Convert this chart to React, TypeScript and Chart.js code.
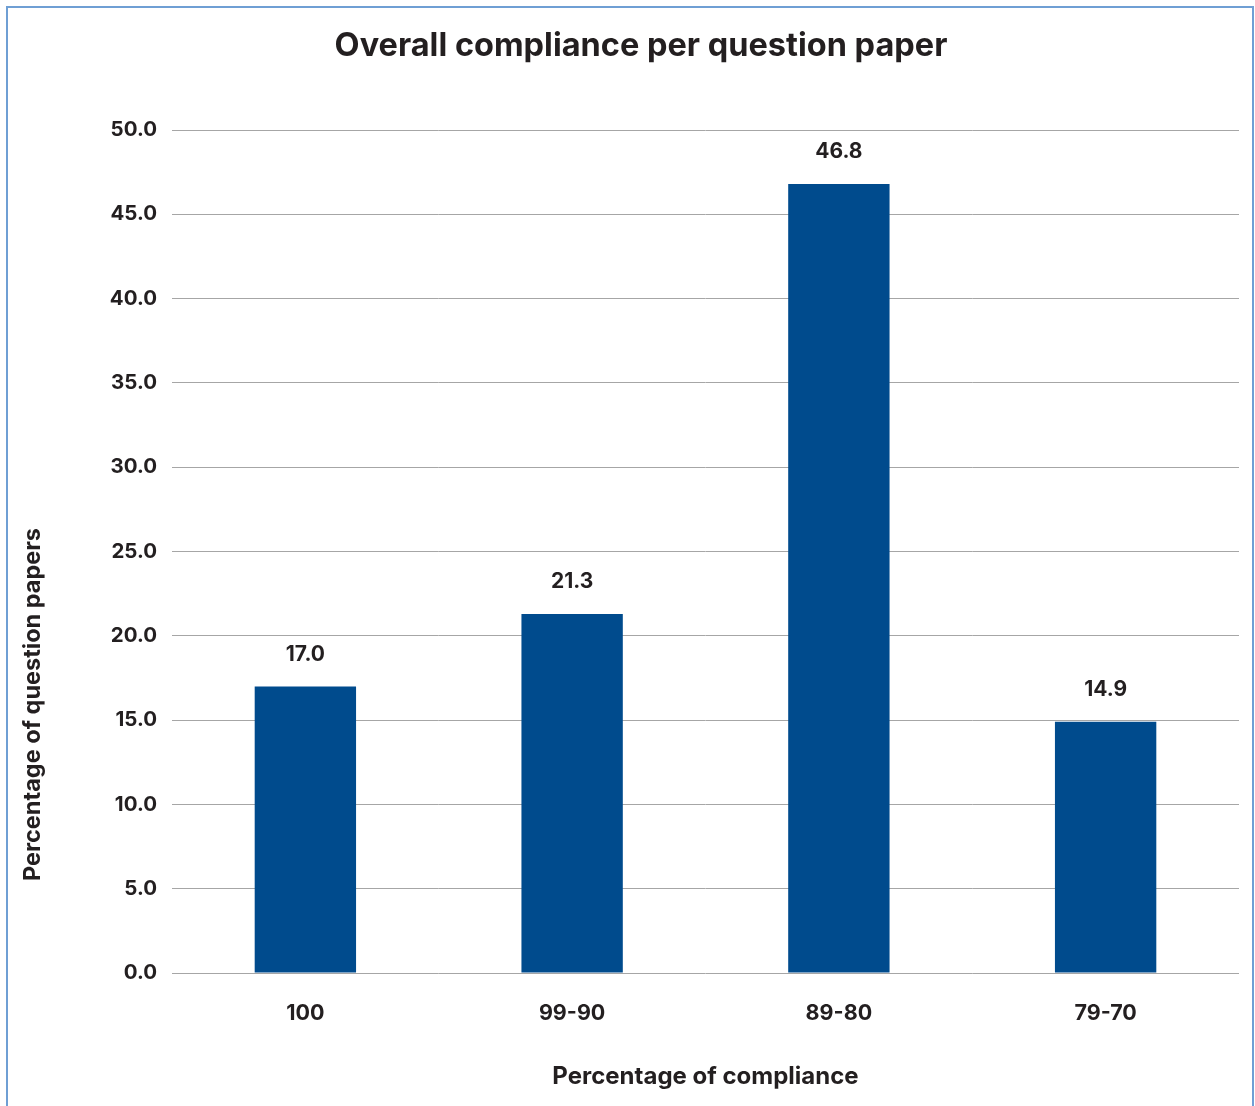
import React, { useEffect, useRef } from "react";
import { Chart, registerables } from "chart.js";

Chart.register(...registerables);

const categories = ["100", "99-90", "89-80", "79-70"];
const values = [17.0, 21.3, 46.8, 14.9];
const yTicks = [0, 5, 10, 15, 20, 25, 30, 35, 40, 45, 50];

const FONT = "Inter, 'DejaVu Sans', sans-serif";
const TEXT = "#231f20";

const valueLabels = {
  id: "valueLabels",
  afterDatasetsDraw(chart: any) {
    const ctx = chart.ctx;
    const meta = chart.getDatasetMeta(0);
    ctx.save();
    ctx.font = `bold 21px ${FONT}`;
    ctx.fillStyle = TEXT;
    ctx.textAlign = "center";
    ctx.textBaseline = "middle";
    meta.data.forEach((el: any, i: number) => {
      ctx.fillText(values[i].toFixed(1), el.x, el.y - 32);
    });
    ctx.restore();
  },
};

const yTitle = {
  id: "yTitle",
  afterDraw(chart: any) {
    const ctx = chart.ctx;
    const area = chart.chartArea;
    ctx.save();
    ctx.font = `bold 23.5px ${FONT}`;
    ctx.fillStyle = TEXT;
    ctx.textAlign = "center";
    ctx.textBaseline = "middle";
    ctx.translate(25, area.bottom - 268.5);
    ctx.rotate(-Math.PI / 2);
    ctx.fillText("Percentage of question papers", 0, 0);
    ctx.restore();
  },
};

export default function App() {
  const ref = useRef<HTMLCanvasElement>(null);
  useEffect(() => {
    if (!ref.current) return;
    const chart = new Chart(ref.current, {
      type: "bar",
      data: {
        labels: categories,
        datasets: [
          {
            data: values,
            backgroundColor: "#004b8d",
            categoryPercentage: 1,
            barPercentage: 0.38,
          },
        ],
      },
      options: {
        animation: false,
        responsive: false,
        layout: { padding: { left: 35, right: 13, top: 0, bottom: 0 } },
        plugins: {
          legend: { display: false },
          tooltip: { enabled: false },
          title: {
            display: true,
            text: "Overall compliance per question paper",
            color: TEXT,
            font: { family: FONT, size: 32.5, weight: "bold", lineHeight: 1.2 },
            padding: { top: 18.5, bottom: 64.5 },
          },
        },
        scales: {
          x: {
            grid: { display: false, drawTicks: false },
            border: { display: false },
            ticks: {
              color: TEXT,
              font: { family: FONT, size: 21.5, weight: "bold" },
              padding: 28,
            },
            title: {
              display: true,
              text: "Percentage of compliance",
              color: TEXT,
              font: { family: FONT, size: 24, weight: "bold", lineHeight: 1.2 },
              padding: { top: 0, bottom: 17 },
            },
            afterFit: (s: any) => {
              s.height = 135;
            },
          },
          y: {
            min: 0,
            max: 50,
            afterBuildTicks: (s: any) => {
              s.ticks = yTicks.map((v) => ({ value: v }));
            },
            grid: { color: "#a6a6a6", lineWidth: 1, drawTicks: false },
            border: { display: false },
            ticks: {
              color: TEXT,
              font: { family: FONT, size: 20.5, weight: "bold" },
              padding: 15,
              callback: (v: any) => Number(v).toFixed(1),
            },
            afterFit: (s: any) => {
              s.width = 129;
            },
          },
        },
      },
      plugins: [valueLabels, yTitle],
    });
    return () => chart.destroy();
  }, []);

  return (
    <div
      style={{
        position: "absolute",
        left: 6,
        top: 6,
        width: 1248,
        height: 1110,
        border: "2px solid #6f9fd4",
        boxSizing: "border-box",
        background: "#fff",
      }}
    >
      <canvas ref={ref} width={1244} height={1100} style={{ display: "block" }} />
    </div>
  );
}
